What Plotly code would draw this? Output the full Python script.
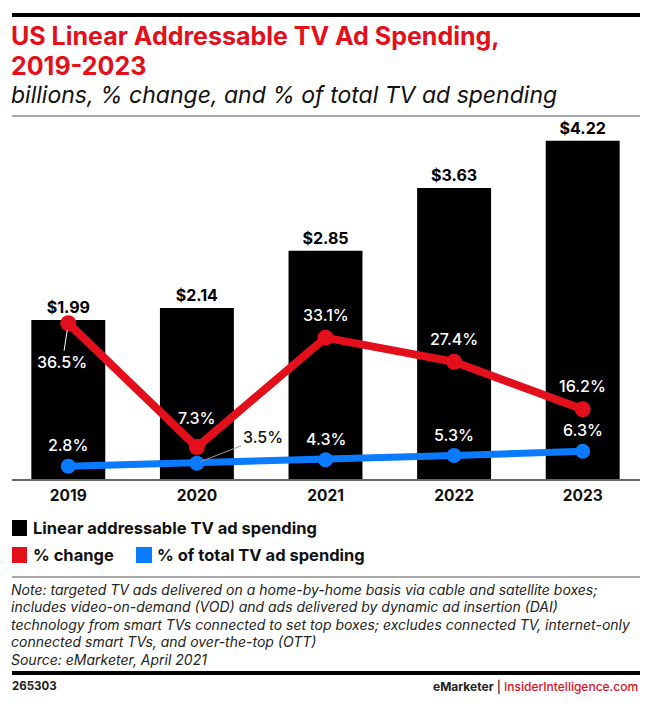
import plotly.graph_objects as go

years = ["2019", "2020", "2021", "2022", "2023"]
spending = [1.99, 2.14, 2.85, 3.63, 4.22]
pct_change = [36.5, 7.3, 33.1, 27.4, 16.2]
pct_total = [2.8, 3.5, 4.3, 5.3, 6.3]

W, H = 654, 712
RED = "#E3101C"
BLUE = "#0A7BFF"
FONT = "Inter"

xi = list(range(len(years)))

def px(x):
    return x / W

def py(y):
    return 1 - y / H

fig = go.Figure()
fig.add_trace(go.Bar(
    x=xi, y=spending, marker=dict(color="#000000", line=dict(width=0)),
    width=0.575, text=[f"${v:.2f}" for v in spending], textposition="outside",
    textfont=dict(family=FONT, size=16, color="#000000", weight="bold"),
    cliponaxis=False, hoverinfo="skip", showlegend=False,
))
fig.add_trace(go.Scatter(
    x=xi, y=pct_change, yaxis="y2", mode="lines+markers",
    line=dict(color=RED, width=8), marker=dict(color=RED, size=16),
    cliponaxis=False, showlegend=False, hoverinfo="skip",
))
fig.add_trace(go.Scatter(
    x=xi, y=pct_total, yaxis="y2", mode="lines+markers",
    line=dict(color=BLUE, width=7), marker=dict(color=BLUE, size=15),
    cliponaxis=False, showlegend=False, hoverinfo="skip",
))

ann = []
lab_font = dict(family=FONT, size=16, color="#ffffff", weight=500)
for i, v in zip(xi, pct_change):
    if i == 0:
        ann.append(dict(x=i, y=v, xref="x", yref="y2", text=f"{v}%", showarrow=True,
                        ax=-6, ay=39, arrowhead=0, arrowwidth=1, arrowcolor="#ffffff",
                        standoff=7, font=lab_font))
    else:
        ann.append(dict(x=i, y=v, xref="x", yref="y2", text=f"{v}%", showarrow=False,
                        yshift=29 if i == 1 else 23, font=lab_font))
for i, v in zip(xi, pct_total):
    if i == 1:
        ann.append(dict(x=i, y=v, xref="x", yref="y2", text=f"{v}%", showarrow=True,
                        ax=66, ay=-26, arrowhead=0, arrowwidth=1, arrowcolor="#9a9a9a",
                        standoff=4, font=dict(family=FONT, size=16, color="#111111", weight=500)))
    else:
        ann.append(dict(x=i, y=v, xref="x", yref="y2", text=f"{v}%", showarrow=False,
                        yshift=21, font=lab_font))

def txt(x, y, s, size, color="#000000", weight="normal", style="normal", xanchor="left", yanchor="middle"):
    ann.append(dict(x=px(x), y=py(y), xref="paper", yref="paper", text=s, showarrow=False,
                    xanchor=xanchor, yanchor=yanchor, align="left",
                    font=dict(family=FONT, size=size, color=color, weight=weight, style=style)))

# titles
txt(9, 36, "US Linear Addressable TV Ad Spending,", 25, RED, "bold")
txt(9, 66, "2019-2023", 25, RED, "bold")
txt(9, 95, "billions, % change, and % of total TV ad spending", 23, "#111111", style="italic")

# legend
txt(31, 528, "Linear addressable TV ad spending", 16.5, "#111111", "bold")
txt(31, 555, "% change", 16.5, "#111111", "bold")
txt(155, 555, "% of total TV ad spending", 16.5, "#111111", "bold")

# note
note_lines = [
    "Note: targeted TV ads delivered on a home-by-home basis via cable and satellite boxes;",
    "includes video-on-demand (VOD) and ads delivered by dynamic ad insertion (DAI)",
    "technology from smart TVs connected to set top boxes; excludes connected TV, internet-only",
    "connected smart TVs, and over-the-top (OTT)",
    "Source: eMarketer, April 2021",
]
for k, line in enumerate(note_lines):
    txt(9, 589 + k * 17.5, line, 14, "#222222", style="italic")

# footer
txt(10, 686, "265303", 11.5, "#222222", "bold")
ann.append(dict(x=px(640), y=py(686), xref="paper", yref="paper", showarrow=False,
                xanchor="right", yanchor="middle",
                text="<b>eMarketer</b> | <span style='color:" + RED + "'>InsiderIntelligence.com</span>",
                font=dict(family=FONT, size=12, color="#222222", weight=500)))

shapes = [
    dict(type="rect", xref="paper", yref="paper", x0=px(12), x1=px(640), y0=py(17), y1=py(13),
         fillcolor="#000000", line=dict(width=0)),
    dict(type="line", xref="paper", yref="paper", x0=px(12), x1=px(640), y0=py(116), y1=py(116),
         line=dict(color="#8a8a8a", width=1.5)),
    dict(type="line", xref="paper", yref="paper", x0=px(12), x1=px(640), y0=py(577), y1=py(577),
         line=dict(color="#555555", width=1.2)),
    dict(type="rect", xref="paper", yref="paper", x0=px(12), x1=px(640), y0=py(675), y1=py(671),
         fillcolor="#000000", line=dict(width=0)),
    dict(type="line", xref="paper", yref="paper", x0=px(12), x1=px(640), y0=py(480), y1=py(480),
         line=dict(color="#666666", width=2)),
    # legend swatches
    dict(type="rect", xref="paper", yref="paper", x0=px(12), x1=px(27), y0=py(536), y1=py(520),
         fillcolor="#000000", line=dict(width=0)),
    dict(type="rect", xref="paper", yref="paper", x0=px(12), x1=px(27), y0=py(563), y1=py(547),
         fillcolor=RED, line=dict(width=0)),
    dict(type="rect", xref="paper", yref="paper", x0=px(136), x1=px(152), y0=py(563), y1=py(547),
         fillcolor=BLUE, line=dict(width=0)),
]

fig.update_layout(
    width=W, height=H, margin=dict(l=0, r=0, t=0, b=0),
    paper_bgcolor="#ffffff", plot_bgcolor="#ffffff",
    showlegend=False, annotations=ann, shapes=shapes,
    xaxis=dict(domain=[px(13), px(638)], range=[-0.43, 4.43],
               tickvals=xi, ticktext=years, ticklabelstandoff=4,
               showgrid=False, zeroline=False, showline=False, ticks="",
               tickfont=dict(family=FONT, size=15.5, color="#111111", weight="bold"),
               fixedrange=True),
    yaxis=dict(domain=[py(480), py(125)], range=[0, 4.415], visible=False, fixedrange=True),
    yaxis2=dict(domain=[py(480), py(125)], range=[-0.47, 83.26], overlaying="y",
                visible=False, fixedrange=True),
)

fig.write_html("out.html", config={"displayModeBar": False},
               post_script="document.body.style.margin='0';document.body.style.padding='0';")
